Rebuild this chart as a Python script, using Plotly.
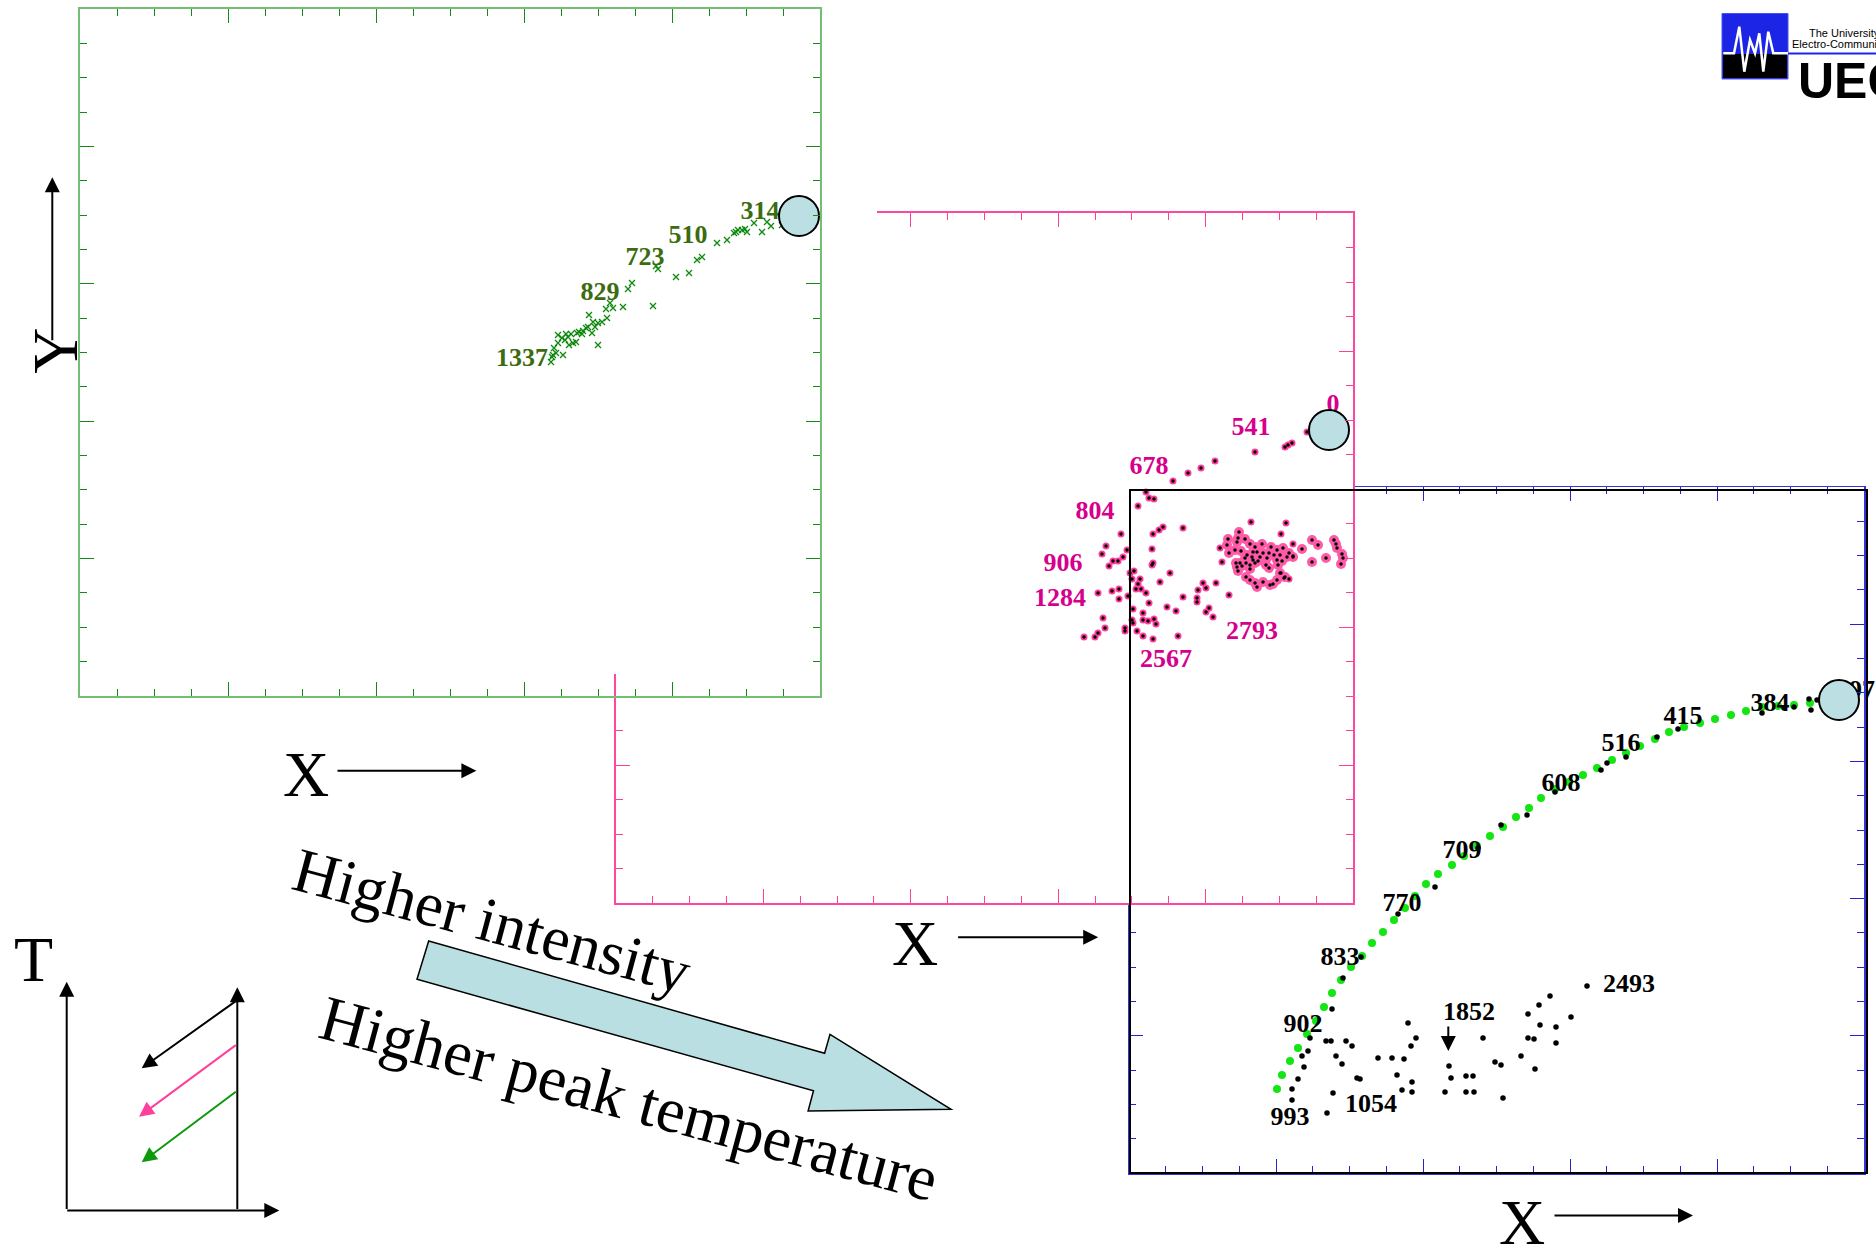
import plotly.graph_objects as go

FIG_W, FIG_H = 1876, 1251

# ---------------------------------------------------------------- data
# Panel 1 (green, lowest intensity) - spot trajectory, arbitrary position units
green_x = [702, 691, 687, 682, 674, 667, 665, 662, 658, 656, 654, 647, 637, 622, 617, 609, 596, 578, 576, 573,
           552, 548, 543, 533, 526, 530, 527, 522, 518, 515, 513, 509, 518, 512, 508, 506, 503, 502, 499, 497,
           496, 493, 489, 488, 486, 485, 482, 478, 483, 476, 473, 474, 471, 472, 478, 491]
green_y = [471, 470, 474, 464, 473, 464, 467, 466, 466, 464, 463, 456, 453, 439, 436, 423, 419, 427, 430, 390,
           413, 407, 389, 388, 387, 393, 378, 374, 373, 369, 374, 381, 351, 363, 369, 368, 365, 362, 364, 363,
           354, 353, 351, 359, 362, 356, 358, 361, 341, 343, 341, 348, 334, 339, 353, 362]
green_label_text = ["1337", "829", "723", "510", "314"]
green_label_x = [442, 520, 565, 608, 680]
green_label_y = [337, 403, 438, 460, 484]
green_start_x = [719]
green_start_y = [480]

# Panel 2 (pink, medium intensity)
pink_x = [691, 669, 672, 676, 639, 599, 585, 572, 557, 530, 533, 538, 522, 505, 490, 486, 511, 507, 493, 497,
          502, 514, 518, 516, 524, 522, 520, 525, 530, 503, 496, 482, 512, 503, 533, 517, 527, 532, 538, 540,
          527, 516, 517, 487, 489, 482, 479, 468, 509, 509, 521, 527, 537, 562, 551, 560, 544, 554, 536, 537,
          536, 537, 543, 547, 567, 567, 581, 581, 582, 587, 590, 600, 593, 590, 597, 613, 606, 604, 635, 670,
          665, 677, 677, 673, 668, 665]
pink_y = [471, 456, 458, 460, 451, 442, 435, 430, 422, 411, 405, 404, 397, 369, 357, 349, 353, 346, 337, 342,
          342, 330, 332, 324, 324, 319, 314, 314, 310, 314, 312, 310, 307, 304, 300, 294, 290, 282, 284, 279,
          283, 283, 280, 285, 275, 270, 266, 266, 275, 272, 272, 267, 264, 267, 296, 292, 321, 330, 338, 340,
          354, 369, 373, 376, 375, 306, 305, 301, 313, 320, 315, 320, 295, 291, 286, 308, 341, 355, 381, 380,
          369, 359, 347, 324, 325, 330]
pink_cluster_x = [612, 623, 621, 629, 634, 639, 646, 655, 661, 667, 673, 613, 619, 625, 631, 636, 641, 647, 653, 658,
                  664, 671, 677, 620, 624, 630, 637, 642, 651, 661, 666, 621, 626, 634, 639, 650, 622, 634, 653, 662,
                  630, 634, 639, 641, 647, 654, 657, 661, 664, 669, 629, 611, 686, 696, 702, 696, 710, 718, 720, 721,
                  726, 727, 725, 622, 637, 644]
pink_cluster_y = [364, 371, 361, 364, 359, 356, 359, 356, 353, 355, 350, 350, 353, 352, 348, 346, 351, 350, 350, 348,
                  348, 346, 346, 340, 340, 340, 343, 342, 345, 343, 342, 336, 337, 338, 340, 338, 332, 334, 335, 338,
                  326, 323, 320, 316, 321, 318, 319, 323, 330, 326, 345, 358, 354, 363, 358, 341, 345, 363, 359, 355,
                  349, 345, 339, 365, 351, 346]
pink_label_text = ["0", "541", "678", "804", "906", "1284", "2567", "2793", "6045"]
pink_label_x = [717, 635, 533, 479, 447, 444, 550, 636, 759]
pink_label_y = [498, 475, 436, 391, 339, 304, 243, 271, 364]
pink_start_x = [713]
pink_start_y = [473]

# Panel 3 (black, highest intensity)
curve_x = [148, 153, 161, 169, 178, 187, 195, 203, 212, 222, 233, 243, 254, 265, 276, 286, 297, 309, 323, 335,
           348, 361, 374, 387, 400, 412, 426, 440, 454, 468, 483, 497, 511, 526, 540, 555, 571, 586, 602, 617,
           633, 649, 665, 681]
curve_y = [84, 98, 112, 125, 139, 152, 166, 180, 193, 206, 217, 230, 241, 253, 265, 277, 289, 299, 308, 317,
           327, 337, 346, 356, 365, 375, 384, 391, 398, 405, 413, 420, 427, 434, 441, 446, 450, 454, 458, 462,
           466, 467, 468, 470]
black_x = [269, 306, 349, 372, 398, 426, 472, 478, 497, 528, 549, 633, 655, 665, 680, 682, 688, 214, 232, 203,
           181, 179, 173, 175, 169, 163, 163, 197, 202, 207, 213, 217, 223, 228, 231, 204, 198, 249, 263, 275,
           268, 273, 283, 283, 282, 287, 279, 320, 322, 316, 337, 344, 337, 345, 354, 366, 372, 374, 392, 399,
           405, 406, 399, 410, 421, 411, 427, 427, 442, 458]
black_y = [259, 286, 325, 348, 358, 381, 403, 410, 416, 436, 444, 460, 465, 466, 474, 463, 473, 195, 216, 164,
           135, 122, 117, 106, 94, 84, 73, 132, 132, 117, 109, 132, 127, 95, 94, 80, 60, 115, 115, 114,
           98, 83, 81, 91, 127, 135, 150, 107, 95, 81, 97, 97, 81, 81, 135, 111, 108, 75, 117, 135,
           134, 104, 159, 168, 177, 148, 146, 130, 156, 187]
black_label_text = ["97", "384", "415", "516", "608", "709", "770", "833", "902", "993", "1054", "1852", "2493"]
black_label_x = [733, 641, 554, 492, 432, 333, 273, 211, 174, 161, 242, 340, 500]
black_label_y = [482, 469, 456, 429, 389, 322, 269, 215, 148, 55, 68, 160, 188]
black_start_x = [710]
black_start_y = [473]


# ---------------------------------------------------------------- layout helpers
def px(x):
    return x / FIG_W


def py(y):
    return 1 - y / FIG_H


GREEN_BOX = (80, 9, 820, 696)     # left, top, right, bottom (page pixels)
PINK_BOX = (616, 213, 1353, 903)
BLACK_BOX = (1129, 487, 1864, 1173)
COVER_BOX = (0, 0, 877, 674)

SERIF = "Liberation Serif, Times New Roman, serif"
SANS = "Liberation Sans, Arial, sans-serif"
SPOT_FILL = "#bcdfe3"


def axis_pair(box, linecolor, tickcolor, linewidth, xid, yid):
    L, T, R, B = box
    w, h = R - L, B - T
    common = dict(showgrid=False, zeroline=False, showticklabels=False, showline=True,
                  linecolor=linecolor, linewidth=linewidth, mirror="allticks",
                  ticks="inside", ticklen=14, tickwidth=1, tickcolor=tickcolor,
                  tick0=0, fixedrange=True)
    xa = dict(common, domain=[px(L), px(R)], range=[0, w], dtick=w / 5, anchor=yid,
              minor=dict(ticks="inside", ticklen=7, tickwidth=1, tickcolor=tickcolor,
                         tick0=0, dtick=w / 20, showgrid=False))
    ya = dict(common, domain=[py(B), py(T)], range=[0, h], dtick=h / 5, anchor=xid,
              minor=dict(ticks="inside", ticklen=7, tickwidth=1, tickcolor=tickcolor,
                         tick0=0, dtick=h / 20, showgrid=False))
    return xa, ya


fig = go.Figure()

# ---- black panel (bottom layer): x / y
fig.add_trace(go.Scatter(x=curve_x, y=curve_y, mode="markers", xaxis="x", yaxis="y",
                         marker=dict(size=8, color="#14e614"), hoverinfo="skip"))
fig.add_trace(go.Scatter(x=black_x, y=black_y, mode="markers", xaxis="x", yaxis="y",
                         marker=dict(size=5.5, color="black"), hoverinfo="skip"))
fig.add_trace(go.Scatter(x=black_label_x, y=black_label_y, text=black_label_text, mode="text",
                         xaxis="x", yaxis="y", cliponaxis=False,
                         textfont=dict(family=SERIF, size=26, color="black", weight="bold"),
                         hoverinfo="skip"))
fig.add_trace(go.Scatter(x=black_start_x, y=black_start_y, mode="markers", xaxis="x", yaxis="y",
                         marker=dict(size=40, color=SPOT_FILL, line=dict(color="black", width=2)),
                         cliponaxis=False, hoverinfo="skip"))

# ---- pink panel: x2 / y2
fig.add_trace(go.Scatter(x=pink_x, y=pink_y, mode="markers", xaxis="x2", yaxis="y2",
                         marker=dict(size=7, color="#ff3f9c"), hoverinfo="skip"))
fig.add_trace(go.Scatter(x=pink_cluster_x, y=pink_cluster_y, mode="markers", xaxis="x2", yaxis="y2",
                         marker=dict(size=10, color="#ff5aa8"), hoverinfo="skip"))
fig.add_trace(go.Scatter(x=pink_x + pink_cluster_x, y=pink_y + pink_cluster_y, mode="markers",
                         xaxis="x2", yaxis="y2",
                         marker=dict(size=3.5, color="black"), hoverinfo="skip"))
fig.add_trace(go.Scatter(x=pink_label_x, y=pink_label_y, text=pink_label_text, mode="text",
                         xaxis="x2", yaxis="y2", cliponaxis=False,
                         textfont=dict(family=SERIF, size=26, color="#d6008c", weight="bold"),
                         hoverinfo="skip"))
fig.add_trace(go.Scatter(x=pink_start_x, y=pink_start_y, mode="markers", xaxis="x2", yaxis="y2",
                         marker=dict(size=40, color=SPOT_FILL, line=dict(color="black", width=2)),
                         cliponaxis=False, hoverinfo="skip"))

# ---- cover layer (white area of the green picture): x3 / y3
fig.add_trace(go.Scatter(x=[None], y=[None], mode="markers", xaxis="x3", yaxis="y3",
                         hoverinfo="skip"))

# ---- green panel (top layer): x4 / y4
fig.add_trace(go.Scatter(x=green_x, y=green_y, mode="markers", xaxis="x4", yaxis="y4",
                         marker=dict(symbol="x-thin", size=6,
                                     line=dict(color="#0b8a0b", width=1.3)),
                         hoverinfo="skip"))
fig.add_trace(go.Scatter(x=green_label_x, y=green_label_y, text=green_label_text, mode="text",
                         xaxis="x4", yaxis="y4", cliponaxis=False,
                         textfont=dict(family=SERIF, size=26, color="#3b6c10", weight="bold"),
                         hoverinfo="skip"))
fig.add_trace(go.Scatter(x=green_start_x, y=green_start_y, mode="markers", xaxis="x4", yaxis="y4",
                         marker=dict(size=40, color=SPOT_FILL, line=dict(color="black", width=2)),
                         cliponaxis=False, hoverinfo="skip"))

bx, by = axis_pair(BLACK_BOX, "#3434d8", "#2424cc", 1.5, "x", "y")
pxa, pya = axis_pair(PINK_BOX, "#ff479f", "#ff3f9c", 2, "x2", "y2")
gx, gy = axis_pair(GREEN_BOX, "#74bd74", "#138a13", 2, "x4", "y4")
hidden = dict(showgrid=False, zeroline=False, showticklabels=False, showline=False,
              ticks="", range=[0, 1], fixedrange=True)
cx = dict(hidden, domain=[px(COVER_BOX[0]), px(COVER_BOX[2])], anchor="y3")
cy = dict(hidden, domain=[py(COVER_BOX[3]), py(COVER_BOX[1])], anchor="x3")

shapes = []
# white backgrounds of the stacked pictures (drawn inside their own layer)
shapes.append(dict(type="rect", xref="x2", yref="y2", x0=0, x1=PINK_BOX[2] - PINK_BOX[0],
                   y0=0, y1=PINK_BOX[3] - PINK_BOX[1], fillcolor="white", line=dict(width=0),
                   layer="below"))
shapes.append(dict(type="rect", xref="x3", yref="y3", x0=0, x1=1, y0=0, y1=1,
                   fillcolor="white", line=dict(width=0), layer="below"))
# black frame of the third picture
shapes.append(dict(type="rect", xref="paper", yref="paper", x0=px(1130), x1=px(1867),
                   y0=py(1173), y1=py(490), line=dict(color="black", width=2),
                   fillcolor="rgba(0,0,0,0)", layer="above"))


def poly(points):
    return "M " + " L ".join(f"{px(x):.5f},{py(y):.5f}" for x, y in points) + " Z"


def polyline(points):
    return "M " + " L ".join(f"{px(x):.5f},{py(y):.5f}" for x, y in points)


# big light-blue arrow
shapes.append(dict(type="path", xref="paper", yref="paper",
                   path=poly([(428.7, 941), (824.6, 1053.3), (830, 1034.3), (951, 1109.3),
                              (808.1, 1111), (813.5, 1090.7), (417, 979.3)]),
                   fillcolor="#b9dfe2", line=dict(color="black", width=1.5), layer="above"))
# UEC logo
shapes.append(dict(type="rect", xref="paper", yref="paper", x0=px(1722), x1=px(1788),
                   y0=py(79), y1=py(13.5), fillcolor="#1c24e6", line=dict(color="#4a52ee", width=1),
                   layer="above"))
shapes.append(dict(type="rect", xref="paper", yref="paper", x0=px(1723), x1=px(1787),
                   y0=py(78), y1=py(54), fillcolor="black", line=dict(width=0), layer="above"))
shapes.append(dict(type="path", xref="paper", yref="paper",
                   path=polyline([(1723.3, 53.3), (1734, 53.3), (1739.3, 26.7), (1744.3, 71.7),
                                  (1750, 40), (1755, 53.3), (1759.3, 33.3), (1763.3, 71.7),
                                  (1768.3, 31.7), (1773.3, 53.3), (1788.3, 53.3)]),
                   line=dict(color="white", width=2.5), layer="above"))
shapes.append(dict(type="line", xref="paper", yref="paper", x0=px(1788), x1=px(1876),
                   y0=py(53.5), y1=py(53.5), line=dict(color="#1c24e6", width=2), layer="above"))

annotations = []


def arrow(tip, tail, color="black", width=2, size=1.5):
    annotations.append(dict(x=px(tip[0]), y=py(tip[1]), xref="paper", yref="paper",
                            ax=tail[0] - tip[0], ay=tail[1] - tip[1], axref="pixel", ayref="pixel",
                            text="", showarrow=True, arrowhead=2, arrowsize=size,
                            arrowwidth=width, arrowcolor=color, standoff=0))


def label(text, x, y, size=64, angle=0, family=SERIF, color="black", xanchor="center", weight="normal"):
    annotations.append(dict(x=px(x), y=py(y), xref="paper", yref="paper", text=text,
                            showarrow=False, textangle=angle, xanchor=xanchor, yanchor="middle",
                            font=dict(family=family, size=size, color=color, weight=weight)))


# axis names
label("Y", 54.7, 351, angle=-90)
arrow((52.3, 177.3), (52.3, 341.7))
label("X", 305.5, 774.7)
arrow((476.4, 770.7), (336, 770.7))
label("X", 915.2, 943.3)
arrow((1098.2, 937.3), (956.6, 937.3))
label("X", 1522, 1222)
arrow((1693, 1215.5), (1553, 1215.5))

# marker arrow in third panel
arrow((1448.3, 1051), (1448.3, 1025))

# rotated explanation texts
label("Higher intensity", 492, 921, size=63, angle=15)
label("Higher peak temperature", 629, 1098, size=64, angle=15)

# T diagram
label("T", 33.7, 959)
arrow((66.7, 981.7), (66.7, 1210.5))
arrow((279.3, 1210.5), (65.7, 1210.5))
arrow((237.3, 987.3), (237.3, 1210.5))
arrow((141.7, 1068.3), (237.3, 1000))
arrow((139, 1116.7), (237.3, 1044), color="#ff3f9c")
arrow((141.7, 1162.3), (237.3, 1090.7), color="#0a9a0a")

# logo texts
label("The University", 1807, 33, size=11, family=SANS, xanchor="left")
label("Electro-Communications", 1790, 44.5, size=11, family=SANS, xanchor="left")
label("UEC", 1796, 81, size=50, family=SANS, xanchor="left", weight="bold")

fig.update_layout(
    width=FIG_W, height=FIG_H, autosize=False,
    margin=dict(l=0, r=0, t=0, b=0, pad=0),
    paper_bgcolor="white", plot_bgcolor="rgba(0,0,0,0)",
    showlegend=False, hovermode=False, template="none",
    xaxis=bx, yaxis=by, xaxis2=pxa, yaxis2=pya, xaxis3=cx, yaxis3=cy, xaxis4=gx, yaxis4=gy,
    shapes=shapes, annotations=annotations,
)

fig.write_html("out.html", config={"displayModeBar": False, "staticPlot": True})
